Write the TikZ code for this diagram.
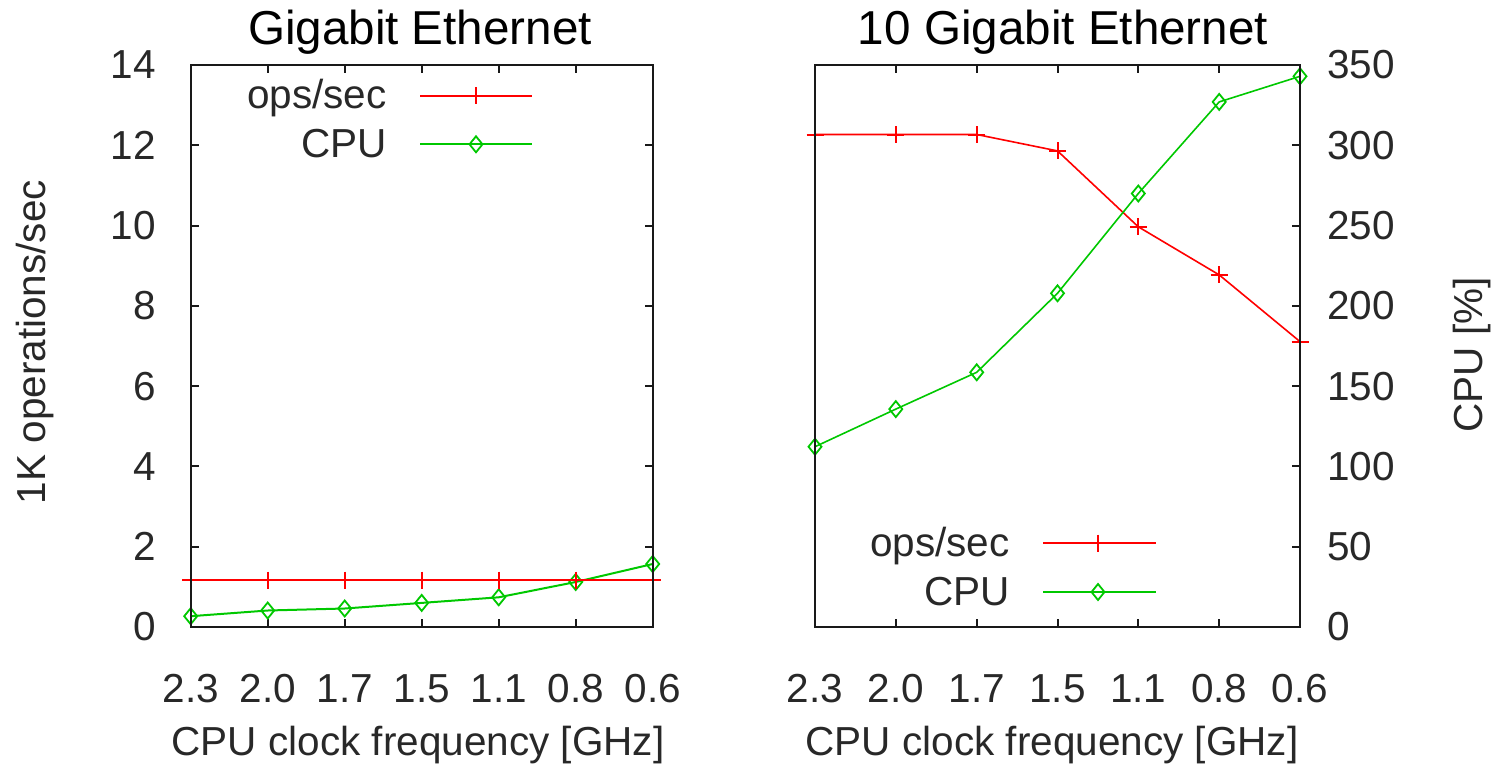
\documentclass[tikz,border=0pt]{standalone}
\usepackage{fontspec}
\setmainfont{Liberation Sans}
\definecolor{opsred}{RGB}{255,0,0}
\definecolor{cpugreen}{RGB}{0,200,0}
\definecolor{axisgray}{RGB}{25,25,25}
\definecolor{labelgray}{RGB}{40,40,40}

\begin{document}
\begin{tikzpicture}[x=0.5pt,y=-0.5pt,
  frame/.style={line width=1pt, draw=axisgray},
  tickmark/.style={line width=1pt, draw=axisgray},
  ticklab/.style={font=\fontsize{20.25}{23}\selectfont, text=labelgray, inner sep=0pt},
  axislab/.style={font=\fontsize{20.25}{23}\selectfont, text=labelgray, inner sep=0pt},
  titlelab/.style={font=\fontsize{23.8}{28}\selectfont, text=black, inner sep=0pt},
  opsline/.style={draw=opsred, line width=1pt},
  cpuline/.style={draw=cpugreen, line width=1pt},
  thinops/.style={draw=opsred, line width=0.8pt},
  thincpu/.style={draw=cpugreen, line width=0.8pt},
  opsmark/.pic={\draw[opsred, line width=1pt] (-8.5,0) -- (8.5,0) (0,-8.5) -- (0,8.5);},
  cpumark/.pic={\draw[cpugreen, line width=0.9pt] (-6.5,0) -- (0,-8) -- (6.5,0) -- (0,8) -- cycle;}
]
\useasboundingbox (0,0) rectangle (1494,766);

% ---------------- left panel: Gigabit Ethernet ----------------
\node[titlelab, anchor=base] (ltitle) at (420,44) {Gigabit Ethernet};

% y tick labels and inward ticks on both sides
\foreach \v [count=\k from 0] in {0,2,4,6,8,10,12,14} {
  \pgfmathsetmacro{\yy}{627-\k*80.286}
  \node[ticklab, anchor=east] (ly\k) at (156,\yy) {\v};
  \ifnum\k>0 \ifnum\k<7
    \draw[tickmark] (190.7,\yy) -- ++(8,0);
    \draw[tickmark] (652.7,\yy) -- ++(-8,0);
  \fi\fi
}
% x tick labels and inward ticks on top and bottom
\foreach \f [count=\k from 0] in {2.3,2.0,1.7,1.5,1.1,0.8,0.6} {
  \pgfmathsetmacro{\xx}{190.7+\k*77}
  \node[ticklab] (lx\k) at (\xx,689) {\f};
  \ifnum\k>0 \ifnum\k<6
    \draw[tickmark] (\xx,627) -- ++(0,-8);
    \draw[tickmark] (\xx,65) -- ++(0,8);
  \fi\fi
}
\node[axislab, rotate=90] (lylab) at (35,342) {1K operations/sec};
\node[axislab] (lxlab) at (418,745) {CPU clock frequency [GHz]};

% legend
\node[axislab, anchor=base east] (lkeyops) at (387,108.5) {ops/sec};
\node[axislab, anchor=base east] (lkeycpu) at (387,157) {CPU};
\coordinate (lko1) at (420,95.7);  \coordinate (lko2) at (532,95.7);
\coordinate (lkc1) at (420,144.3); \coordinate (lkc2) at (532,144.3);
\draw[opsline] (lko1) -- (lko2);
\pic at (476,95.7) {opsmark};
\draw[cpuline] (lkc1) -- (lkc2);
\pic at (476,144.3) {cpumark};

% data
\draw[cpuline] (190.7,616.2) -- (267.7,610.5) -- (344.7,608.5) -- (421.7,602.9)
  -- (498.7,597.3) -- (575.7,582.0) -- (652.7,564.0);
\foreach \x/\y in {190.7/616.2,267.7/610.5,344.7/608.5,421.7/602.9,498.7/597.3,575.7/582.0,652.7/564.0}
  \pic at (\x,\y) {cpumark};
\draw[opsline] (190.7,580) -- (652.7,580);
\foreach \x in {190.7,267.7,344.7,421.7,498.7,575.7,652.7}
  \pic at (\x,580) {opsmark};

\draw[frame] (190.7,65) rectangle (652.7,627);

% ---------------- right panel: 10 Gigabit Ethernet ----------------
\node[titlelab, anchor=base] (rtitle) at (1063,44) {10 Gigabit Ethernet};

% right-hand CPU axis: labels and inward ticks
\foreach \v [count=\k from 0] in {0,50,100,150,200,250,300,350} {
  \pgfmathsetmacro{\yy}{627-\k*80.286}
  \node[ticklab, anchor=west] (ry\k) at (1327,\yy) {\v};
  \ifnum\k>0 \ifnum\k<7
    \draw[tickmark] (1300,\yy) -- ++(-8,0);
  \fi\fi
}
\foreach \f [count=\k from 0] in {2.3,2.0,1.7,1.5,1.1,0.8,0.6} {
  \pgfmathsetmacro{\xx}{815+\k*80.833}
  \node[ticklab] (rx\k) at (\xx,689) {\f};
  \ifnum\k>0 \ifnum\k<6
    \draw[tickmark] (\xx,627) -- ++(0,-8);
    \draw[tickmark] (\xx,65) -- ++(0,8);
  \fi\fi
}
\node[axislab, rotate=90] (rylab) at (1472,355) {CPU [\%]};
\node[axislab] (rxlab) at (1052,745) {CPU clock frequency [GHz]};

% legend
\node[axislab, anchor=base east] (rkeyops) at (1010,556) {ops/sec};
\node[axislab, anchor=base east] (rkeycpu) at (1010,605) {CPU};
\coordinate (rko1) at (1043,543); \coordinate (rko2) at (1156,543);
\coordinate (rkc1) at (1043,592); \coordinate (rkc2) at (1156,592);
\draw[opsline] (rko1) -- (rko2);
\pic at (1098,543) {opsmark};
\draw[cpuline] (rkc1) -- (rkc2);
\pic at (1098,592) {cpumark};

% data
\draw[thinops] (815,134.5) -- (895.8,134.5) -- (976.7,134.5) -- (1057.5,150.9)
  -- (1138.3,226.8) -- (1219.2,274.9) -- (1300,341.6);
\foreach \x/\y in {815/134.5,895.8/134.5,976.7/134.5,1057.5/150.9,1138.3/226.8,1219.2/274.9,1300/341.6}
  \pic at (\x,\y) {opsmark};
\draw[thincpu] (815,446.7) -- (895.8,409.1) -- (976.7,372.3) -- (1057.5,293.3)
  -- (1138.3,193.5) -- (1219.2,101.9) -- (1300,76.3);
\foreach \x/\y in {815/446.7,895.8/409.1,976.7/372.3,1057.5/293.3,1138.3/193.5,1219.2/101.9,1300/76.3}
  \pic at (\x,\y) {cpumark};

\draw[frame] (815,65) rectangle (1300,627);
\end{tikzpicture}
\end{document}
